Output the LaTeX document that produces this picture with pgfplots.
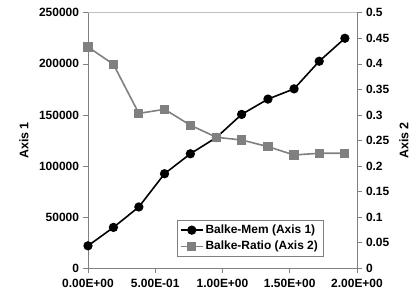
\documentclass[border=0pt]{standalone}
\usepackage{fontspec}
\setmainfont{Liberation Sans}
\usepackage{pgfplots}
\pgfplotsset{compat=1.18}
\definecolor{axgray}{RGB}{128,128,128}
\definecolor{sergray}{RGB}{128,128,128}
\begin{document}
\begin{tikzpicture}
\pgfplotsset{
  every axis/.append style={
    scale only axis, width=269bp, height=255.6bp,
    at={(0,0)}, anchor=south west,
    xmin=0, xmax=2,
    scaled y ticks=false, scaled x ticks=false,
    font=\fontsize{12}{14}\selectfont\bfseries,
    /pgf/number format/assume math mode=true,
    tick label style={font=\fontsize{12}{14}\selectfont\bfseries},
    label style={font=\fontsize{12.5}{14}\selectfont\bfseries},
    tick align=outside, major tick length=4.5bp,
    tick style={axgray, line width=0.6bp},
    axis line style={axgray, line width=0.8bp},
  },
}
\begin{axis}[
  axis x line*=bottom, axis y line*=left,
  ymin=0, ymax=250000,
  ytick={0,50000,100000,150000,200000,250000},
  yticklabels={0,50000,100000,150000,200000,250000},
  xtick={0,0.5,1,1.5,2},
  xticklabels={0.00E+00,5.00E-01,1.00E+00,1.50E+00,2.00E+00},
  ylabel={Axis 1},
  ylabel style={at={(-64bp,127.8bp)}, anchor=center},
  xticklabel style={yshift=-3bp},
  yticklabel style={xshift=-1bp},
  clip=false,
]
\draw[color={rgb,255:red,192;green,192;blue,192}, line width=0.8bp] (rel axis cs:0,1) -- (rel axis cs:1,1);
\addplot[black, line width=1.6bp, mark=*, mark size=3.8bp] coordinates {
(0.000,22000) (0.189,40000) (0.378,60000) (0.569,92500) (0.761,112000)
(0.955,128000) (1.142,150500) (1.338,165500) (1.532,175500) (1.719,202500) (1.910,225000)
};
\end{axis}
\begin{axis}[
  axis x line=none, axis y line*=right,
  ymin=0, ymax=0.5,
  ytick={0,0.05,0.1,0.15,0.2,0.25,0.3,0.35,0.4,0.45,0.5},
  yticklabels={0,0.05,0.1,0.15,0.2,0.25,0.3,0.35,0.4,0.45,0.5},
  ylabel={Axis 2},
  ylabel style={at={(316bp,127.8bp)}, anchor=center},
  yticklabel style={xshift=1bp},
  legend cell align=left,
  legend style={at={(88.7bp,11.6bp)}, anchor=south west, draw={rgb,255:red,128;green,128;blue,128}, line width=0.6bp,
    font=\fontsize{12}{14}\selectfont\bfseries, inner xsep=3bp, inner ysep=3bp, row sep=2bp,
    nodes={inner sep=2bp}},
  legend image code/.code={\draw[#1, mark repeat=2, mark phase=2] plot coordinates {(0bp,0bp) (11bp,0bp) (22bp,0bp)};},
  clip=false,
]
\addlegendimage{black, line width=1.6bp, mark=*, mark size=3.8bp}
\addlegendentry{Balke-Mem (Axis 1)}
\addplot[sergray, line width=1.6bp, mark=square*, mark size=3.8bp] coordinates {
(0.000,0.433) (0.189,0.399) (0.378,0.303) (0.569,0.311) (0.761,0.280)
(0.955,0.2563) (1.142,0.251) (1.338,0.238) (1.532,0.2217) (1.719,0.225) (1.910,0.225)
};
\addlegendentry{Balke-Ratio (Axis 2)}
\end{axis}
\path[use as bounding box] (-88bp,-28.7bp) rectangle (332bp,268.3bp);
\end{tikzpicture}
\end{document}
